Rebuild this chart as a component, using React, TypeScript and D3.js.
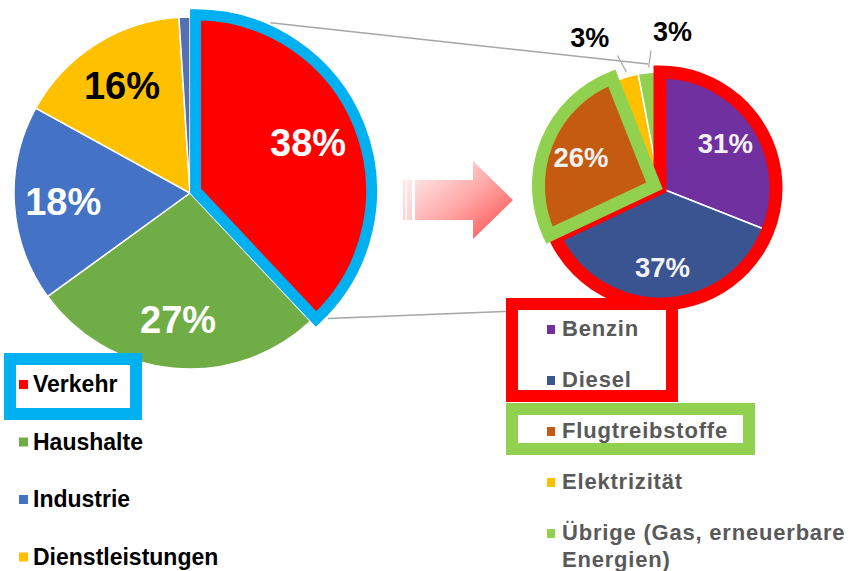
import React from 'react'
import * as d3 from 'd3'

// --- data: energy use by sector (left) and transport by fuel (right) ---
const mainLabels = ['Verkehr', 'Haushalte', 'Industrie', 'Dienstleistungen', 'Sonstige']
const mainValues = [38, 27, 18, 16, 1]
const mainColors = ['#FF0000', '#70AD47', '#4472C4', '#FFC000', '#5470B4']
const mainInk = ['#FFFFFF', '#FFFFFF', '#FFFFFF', '#000000', 'none']
const mainInLegend = [true, true, true, true, false]

const subLabels = ['Benzin', 'Diesel', 'Flugtreibstoffe', 'Elektrizität', 'Übrige (Gas, erneuerbare|Energien)']
const subValues = [31, 37, 26, 3, 3]
const subColors = ['#7030A0', '#3A5391', '#C55A11', '#FFC000', '#92D050']

const W = 849
const H = 571
const FONT = '"Liberation Sans", Arial, sans-serif'

// layout
const L = { cx: 190, cy: 193, r: 176, explode: 6, labelR: 127 }
const R = { cx: 660, cy: 188, r: 116, explode: 6, labelR: 79 }

const rad = (deg: number) => (deg * Math.PI) / 180
const pt = (cx: number, cy: number, r: number, a: number): [number, number] => [cx + r * Math.sin(a), cy - r * Math.cos(a)]

export default function App() {
  const pie = d3.pie<number>().sort(null).value(d => d)
  const mainArcs = pie(mainValues)
  const subArcs = pie(subValues)

  const leftArc = d3.arc<d3.PieArcDatum<number>>().innerRadius(0).outerRadius(L.r)
  const rightArc = d3.arc<d3.PieArcDatum<number>>().innerRadius(0).outerRadius(R.r)
  const mid = (d: d3.PieArcDatum<number>) => (d.startAngle + d.endAngle) / 2

  // highlighted slice of the left pie is pulled out
  const hi = mainArcs[0]
  const [hx, hy] = pt(0, 0, L.explode, mid(hi))
  const lcx = L.cx + hx
  const lcy = L.cy + hy

  // fuel slice highlighted on the right
  const fuel = subArcs[2]
  const [fx, fy] = pt(0, 0, R.explode, mid(fuel))

  // union of Benzin + Diesel
  const roadPath = rightArc({ ...subArcs[0], startAngle: subArcs[0].startAngle, endAngle: subArcs[1].endAngle } as any)

  // connector lines between the two pies
  const up0 = pt(lcx, lcy, L.r + 8, rad(24))
  const up1 = pt(R.cx, R.cy, R.r + 8.5, rad(354.5))
  const lo0 = pt(lcx, lcy, L.r + 8, rad(134))
  const lo1 = pt(R.cx, R.cy, R.r + 1, rad(180))

  const pct = (v: number) => `${v}%`

  // legends
  const leftRows = mainLabels.map((l, i) => ({ l, i })).filter(d => mainInLegend[d.i])
  const lx = 19
  const ly0 = 392
  const lstep = 57.5
  const rx = 547
  const ry0 = 336
  const rstep = 51

  // arrow
  const ax0 = 415, ax1 = 473, ax2 = 513, ay = 200

  return (
    <svg width={W} height={H} style={{ position: 'absolute', left: 0, top: 0, background: '#fff' }} fontFamily={FONT}>
      <defs>
        <linearGradient id="arrowGrad" x1="0" y1="0" x2="1" y2="1">
          <stop offset="0" stopColor="#FFF2F2" />
          <stop offset="0.5" stopColor="#FFA8A8" />
          <stop offset="1" stopColor="#FF4545" />
        </linearGradient>
        <linearGradient id="stripeGrad" x1="0" y1="0" x2="0" y2="1">
          <stop offset="0" stopColor="#FFE8E8" />
          <stop offset="1" stopColor="#FFD0D0" />
        </linearGradient>
      </defs>

      {/* connectors */}
      <line x1={up0[0]} y1={up0[1]} x2={up1[0]} y2={up1[1]} stroke="#A6A6A6" strokeWidth={1.5} />
      <line x1={lo0[0]} y1={lo0[1]} x2={lo1[0]} y2={lo1[1]} stroke="#A6A6A6" strokeWidth={1.5} />

      {/* left pie */}
      <g transform={`translate(${L.cx},${L.cy})`}>
        {mainArcs.slice(1).map((d, i) => (
          <path key={i} d={leftArc(d) || ''} fill={mainColors[i + 1]} stroke="#fff" strokeWidth={1.5} strokeLinejoin="round" />
        ))}
      </g>
      <g transform={`translate(${lcx},${lcy})`}>
        <path d={leftArc(hi) || ''} fill={mainColors[0]} stroke="#00B0F0" strokeWidth={11} strokeLinejoin="miter" />
      </g>
      {mainArcs.map((d, i) => {
        if (mainInk[i] === 'none') return null
        const [tx, ty] = pt(L.cx, L.cy, L.labelR, mid(d))
        return (
          <text key={i} x={tx} y={ty - (i === 0 ? 4 : 0)} dy="0.36em" textAnchor="middle" fontSize={38} fontWeight="bold" fill={mainInk[i]}>
            {pct(mainValues[i])}
          </text>
        )
      })}

      {/* arrow */}
      <rect x={403} y={ay - 20} width={2.5} height={40} fill="url(#stripeGrad)" />
      <rect x={407} y={ay - 20} width={5} height={40} fill="url(#stripeGrad)" />
      <path
        d={`M${ax0},${ay - 20}L${ax1},${ay - 20}L${ax1},${ay - 39}L${ax2},${ay}L${ax1},${ay + 39}L${ax1},${ay + 20}L${ax0},${ay + 20}Z`}
        fill="url(#arrowGrad)"
      />

      {/* right pie */}
      <g transform={`translate(${R.cx},${R.cy})`}>
        {subArcs.map((d, i) => (i === 2 ? null : (
          <path key={i} d={rightArc(d) || ''} fill={subColors[i]} stroke="#fff" strokeWidth={1.5} strokeLinejoin="round" />
        )))}
        <path d={roadPath || ''} fill="none" stroke="#FF0000" strokeWidth={13} strokeLinejoin="miter" />
        <g transform={`translate(${fx},${fy})`}>
          <path d={rightArc(fuel) || ''} fill={subColors[2]} stroke="#92D050" strokeWidth={13} strokeLinejoin="miter" />
        </g>
      </g>
      {subArcs.map((d, i) => {
        const v = subValues[i]
        if (v >= 10) {
          const ox = i === 2 ? R.cx + fx : R.cx
          const oy = i === 2 ? R.cy + fy : R.cy
          const [tx, ty] = pt(ox, oy, R.labelR, mid(d))
          return (
            <text key={i} x={tx} y={ty} dy="0.36em" textAnchor="middle" fontSize={27.5} fontWeight="bold" fill="#F2F2F2">
              {pct(v)}
            </text>
          )
        }
        // small slices: labels outside, spread apart with leader lines
        const side = i === 3 ? -1 : 1
        const a = mid(d)
        const [sx, sy] = pt(R.cx, R.cy, R.r + 5, a)
        const [ex, ey] = pt(R.cx, R.cy, R.r + 22, a)
        const [lx2, ly2] = pt(R.cx, R.cy, R.r + 39, a)
        return (
          <g key={i}>
            <line x1={sx} y1={sy} x2={ex + side * 4} y2={ey} stroke="#A6A6A6" strokeWidth={1.2} />
            <text x={lx2 + side * 27} y={ly2 - 2} dy="0.36em" textAnchor="middle" fontSize={27} fontWeight="bold" fill="#000">
              {pct(v)}
            </text>
          </g>
        )
      })}

      {/* left legend */}
      <rect x={lx - 9} y={ly0 - 33} width={126} height={55} fill="#fff" stroke="#00B0F0" strokeWidth={12} />
      {leftRows.map((d, k) => (
        <g key={d.l} transform={`translate(${lx},${ly0 + k * lstep})`}>
          <rect x={0} y={-12} width={9} height={9} fill={mainColors[d.i]} />
          <text x={14} y={0} fontSize={23} fontWeight="bold" fill="#000">{d.l}</text>
        </g>
      ))}

      {/* right legend */}
      <rect x={rx - 35} y={ry0 - 32} width={160} height={92} fill="#fff" stroke="#FF0000" strokeWidth={12} />
      <rect x={rx - 35} y={ry0 + 2 * rstep - 29} width={237} height={40} fill="#fff" stroke="#92D050" strokeWidth={12} />
      {subLabels.map((l, i) => (
        <g key={l} transform={`translate(${rx},${ry0 + i * rstep})`}>
          <rect x={0} y={-11} width={8} height={9} fill={subColors[i]} />
          <text x={15} y={0} fontSize={22} fontWeight="bold" fill="#595959" letterSpacing={0.8}>
            {l.split('|').map((s, j) => (
              <tspan key={j} x={15} dy={j === 0 ? 0 : 27}>{s}</tspan>
            ))}
          </text>
        </g>
      ))}
    </svg>
  )
}
